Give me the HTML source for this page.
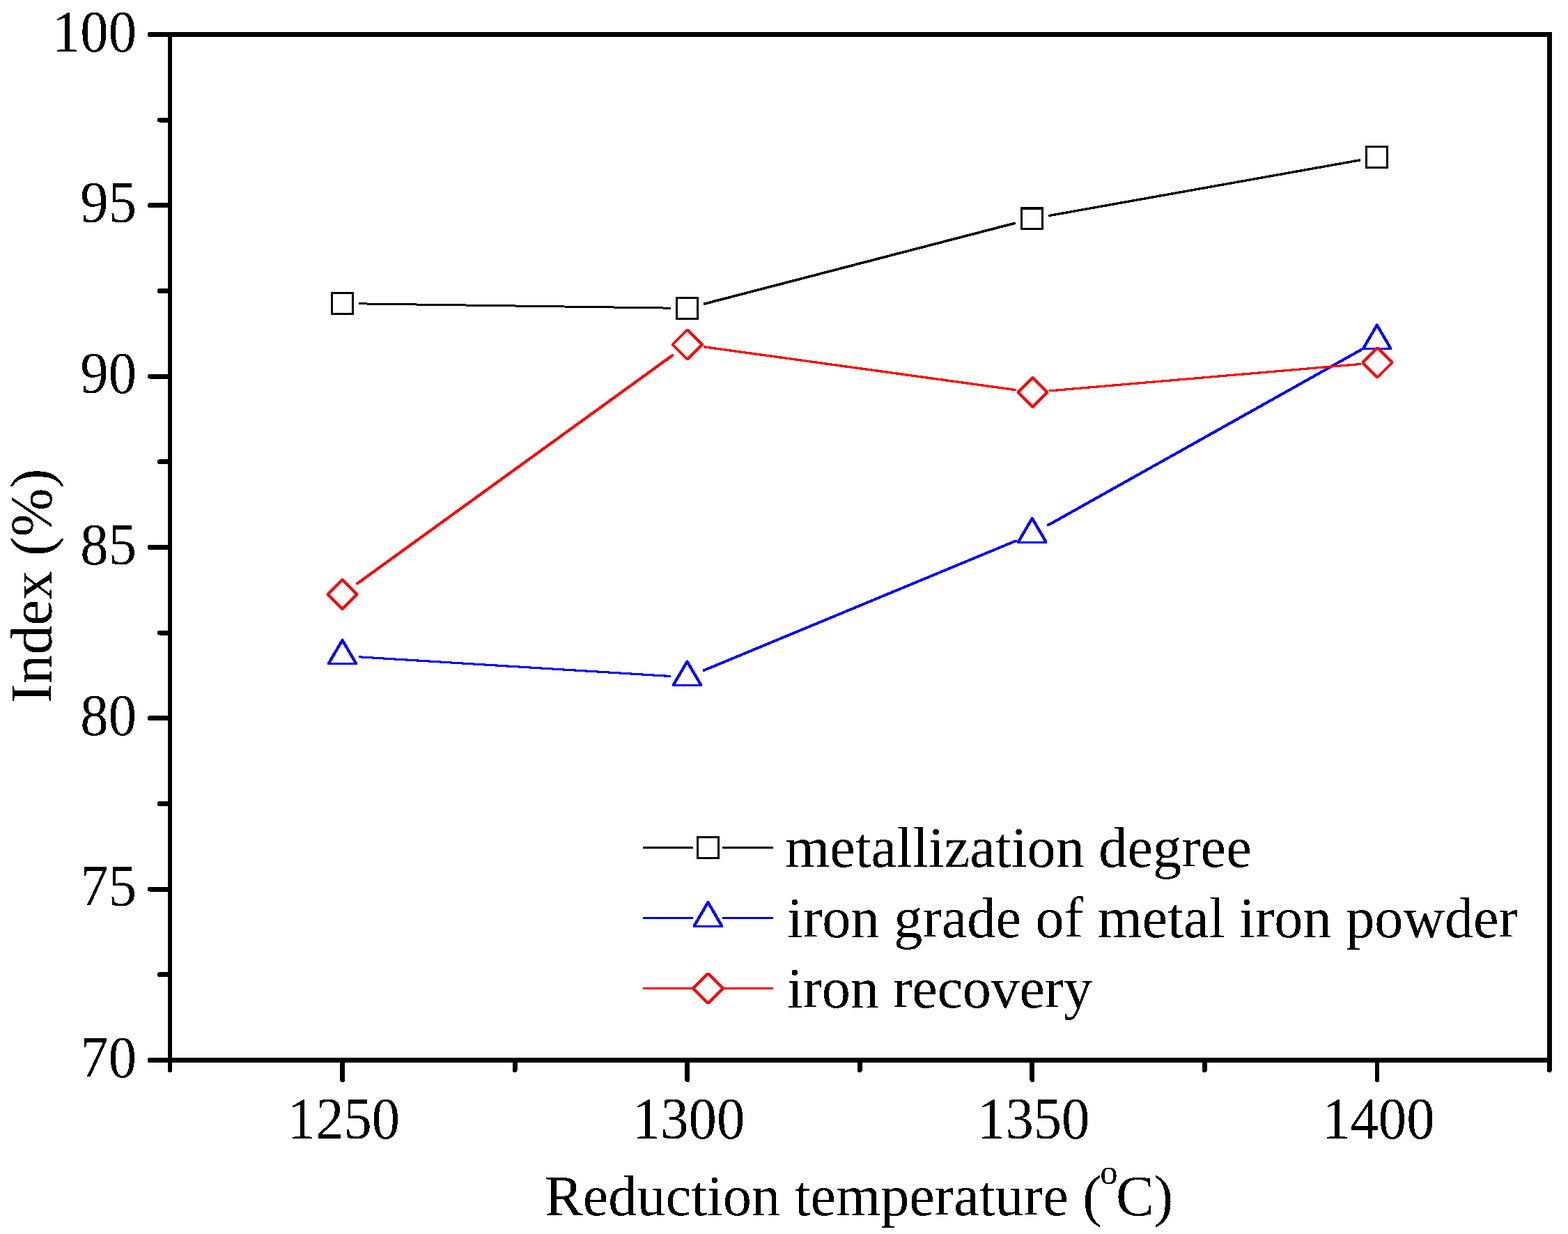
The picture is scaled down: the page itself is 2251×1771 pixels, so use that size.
<!DOCTYPE html><html><head><meta charset="utf-8"><style>html,body{margin:0;padding:0;background:#fff;}svg{display:block;}text{font-family:"Liberation Serif",serif;fill:#000;}</style></head><body>
<svg width="2251" height="1771" viewBox="0 0 2251 1771" shape-rendering="crispEdges">
<rect width="2251" height="1771" fill="#fff"/>
<defs><filter id="bin" x="0" y="0" width="2251" height="1771" filterUnits="userSpaceOnUse" color-interpolation-filters="sRGB"><feComponentTransfer><feFuncA type="discrete" tableValues="0 1"/></feComponentTransfer></filter></defs>
<path d="M244 1521.50H215M244 1276.17H215M244 1030.83H215M244 785.50H215M244 540.17H215M244 294.83H215M244 49.50H215M244 1398.83H229M244 1153.50H229M244 908.17H229M244 662.83H229M244 417.50H229M244 172.17H229M491.56 1521.5V1549.7M986.69 1521.5V1549.7M1481.81 1521.5V1549.7M1976.94 1521.5V1549.7M244.00 1521.5V1535.7M739.12 1521.5V1535.7M1234.25 1521.5V1535.7M1729.38 1521.5V1535.7M2224.50 1521.5V1535.7" stroke="#000" stroke-width="6.8" stroke-linecap="round" fill="none"/>
<rect x="244" y="49.5" width="1980.5" height="1472.0" fill="none" stroke="#000" stroke-width="6.8"/>
<path d="M515.12 434.38L518.08 434.38L962.88 440.67L962.88 443.62L959.92 443.62L515.12 437.33ZM1009.61 434.63L1455.43 318.81L1458.39 318.81L1458.39 321.77L1012.57 437.59L1009.61 437.59ZM1504.94 307.97L1950.10 228.47L1953.06 228.47L1953.06 231.43L1507.90 310.93L1504.94 310.93Z" fill="#000"/>
<path d="M474.98 418.98L508.02 418.98L508.02 452.02L474.98 452.02ZM478.42 448.58L504.58 448.58L504.58 422.42L478.42 422.42ZM969.98 425.98L1003.02 425.98L1003.02 459.02L969.98 459.02ZM973.42 455.58L999.58 455.58L999.58 429.42L973.42 429.42ZM1464.98 297.38L1498.02 297.38L1498.02 330.42L1464.98 330.42ZM1468.42 326.98L1494.58 326.98L1494.58 300.82L1468.42 300.82ZM1959.98 208.98L1993.02 208.98L1993.02 242.02L1959.98 242.02ZM1963.42 238.58L1989.58 238.58L1989.58 212.42L1963.42 212.42Z" fill="#000" fill-rule="evenodd"/>
<path d="M515.14 941.38L518.10 941.38L962.86 968.96L962.86 971.92L959.90 971.92L515.14 944.34ZM1008.61 960.74L1456.73 774.80L1459.69 774.80L1459.69 777.76L1011.57 963.70L1008.61 963.70ZM1502.67 752.50L1952.97 500.24L1955.93 500.24L1955.93 503.20L1505.63 755.46L1502.67 755.46Z" fill="#00f"/>
<path d="M469.86 951.35L489.95 917.15L491.50 916.25L493.05 917.15L513.14 951.35L513.14 954.45L469.86 954.45ZM474.78 951.35L508.22 951.35L491.50 922.89ZM964.86 982.05L984.95 947.85L986.50 946.95L988.05 947.85L1008.14 982.05L1008.14 985.15L964.86 985.15ZM969.78 982.05L1003.22 982.05L986.50 953.59ZM1460.16 776.55L1480.25 742.35L1481.80 741.45L1483.35 742.35L1503.44 776.55L1503.44 779.65L1460.16 779.65ZM1465.08 776.55L1498.52 776.55L1481.80 748.09ZM1955.16 499.25L1975.25 465.05L1976.80 464.15L1978.35 465.05L1998.44 499.25L1998.44 502.35L1955.16 502.35ZM1960.08 499.25L1993.52 499.25L1976.80 470.79Z" fill="#00f" fill-rule="evenodd"/>
<path d="M510.81 836.47L964.53 508.07L967.49 508.07L967.49 511.03L513.77 839.43L510.81 839.43ZM1010.35 496.48L1013.31 496.48L1458.95 558.06L1458.95 561.02L1455.99 561.02L1010.35 499.44ZM1506.13 559.36L1950.81 521.08L1953.77 521.08L1953.77 524.04L1509.09 562.32L1506.13 562.32Z" fill="#f00"/>
<path d="M468.75 851.55L490.05 830.25L492.95 830.25L514.25 851.55L514.25 854.45L492.95 875.75L490.05 875.75L468.75 854.45ZM473.10 853.00L491.50 871.40L509.90 853.00L491.50 834.60ZM964.05 493.05L985.35 471.75L988.25 471.75L1009.55 493.05L1009.55 495.95L988.25 517.25L985.35 517.25L964.05 495.95ZM968.40 494.50L986.80 512.90L1005.20 494.50L986.80 476.10ZM1459.75 561.55L1481.05 540.25L1483.95 540.25L1505.25 561.55L1505.25 564.45L1483.95 585.75L1481.05 585.75L1459.75 564.45ZM1464.10 563.00L1482.50 581.40L1500.90 563.00L1482.50 544.60ZM1954.65 518.95L1975.95 497.65L1978.85 497.65L2000.15 518.95L2000.15 521.85L1978.85 543.15L1975.95 543.15L1954.65 521.85ZM1959.00 520.40L1977.40 538.80L1995.80 520.40L1977.40 502.00Z" fill="#f00" fill-rule="evenodd"/>
<path d="M923.00 1215.00L995.00 1215.00L995.00 1218.00L923.00 1218.00ZM1037.30 1215.00L1110.00 1215.00L1110.00 1218.00L1037.30 1218.00Z" fill="#000"/>
<path d="M1000.00 1200.10L1032.80 1200.10L1032.80 1232.90L1000.00 1232.90ZM1003.20 1229.70L1029.60 1229.70L1029.60 1203.30L1003.20 1203.30Z" fill="#000" fill-rule="evenodd"/>
<path d="M923.00 1316.10L995.00 1316.10L995.00 1319.10L923.00 1319.10ZM1037.30 1316.10L1110.00 1316.10L1110.00 1319.10L1037.30 1319.10Z" fill="#00f"/>
<path d="M994.76 1327.65L1014.85 1293.45L1016.40 1292.55L1017.95 1293.45L1038.04 1327.65L1038.04 1330.75L994.76 1330.75ZM999.68 1327.65L1033.12 1327.65L1016.40 1299.19Z" fill="#00f" fill-rule="evenodd"/>
<path d="M923.00 1417.00L995.00 1417.00L995.00 1420.00L923.00 1420.00ZM1037.30 1417.00L1110.00 1417.00L1110.00 1420.00L1037.30 1420.00Z" fill="#f00"/>
<path d="M993.65 1417.05L1014.95 1395.75L1017.85 1395.75L1039.15 1417.05L1039.15 1419.95L1017.85 1441.25L1014.95 1441.25L993.65 1419.95ZM998.00 1418.50L1016.40 1436.90L1034.80 1418.50L1016.40 1400.10Z" fill="#f00" fill-rule="evenodd"/>
<g filter="url(#bin)">
<text x="1127.2" y="1243.9" font-size="82.3">metallization degree</text>
<text x="1130.1" y="1344.8" font-size="82.3">iron grade of metal iron powder</text>
<text x="1130.1" y="1445.6" font-size="82.3" textLength="438">iron recovery</text>
<text transform="translate(196 1545.80) scale(0.98 1.035)" font-size="82.3" text-anchor="end">70</text>
<text transform="translate(196 1300.47) scale(0.98 1.035)" font-size="82.3" text-anchor="end">75</text>
<text transform="translate(196 1055.13) scale(0.98 1.035)" font-size="82.3" text-anchor="end">80</text>
<text transform="translate(196 809.80) scale(0.98 1.035)" font-size="82.3" text-anchor="end">85</text>
<text transform="translate(196 564.47) scale(0.98 1.035)" font-size="82.3" text-anchor="end">90</text>
<text transform="translate(196 319.13) scale(0.98 1.035)" font-size="82.3" text-anchor="end">95</text>
<text transform="translate(196 73.80) scale(0.98 1.035)" font-size="82.3" text-anchor="end">100</text>
<text transform="translate(493.46 1634.2) scale(0.98 1.035)" font-size="82.3" text-anchor="middle">1250</text>
<text transform="translate(988.59 1634.2) scale(0.98 1.035)" font-size="82.3" text-anchor="middle">1300</text>
<text transform="translate(1483.71 1634.2) scale(0.98 1.035)" font-size="82.3" text-anchor="middle">1350</text>
<text transform="translate(1978.84 1634.2) scale(0.98 1.035)" font-size="82.3" text-anchor="middle">1400</text>
<text x="781.9" y="1743.6" font-size="82.3">Reduction temperature (<tspan font-size="50.5" dy="-44.5" dx="-2.5">o</tspan><tspan dy="44.5" dx="-2.5">C)</tspan></text>
<text transform="translate(73.6 1009.3) rotate(-90)" font-size="83.6">Index (%)</text>
</g>
</svg></body></html>
